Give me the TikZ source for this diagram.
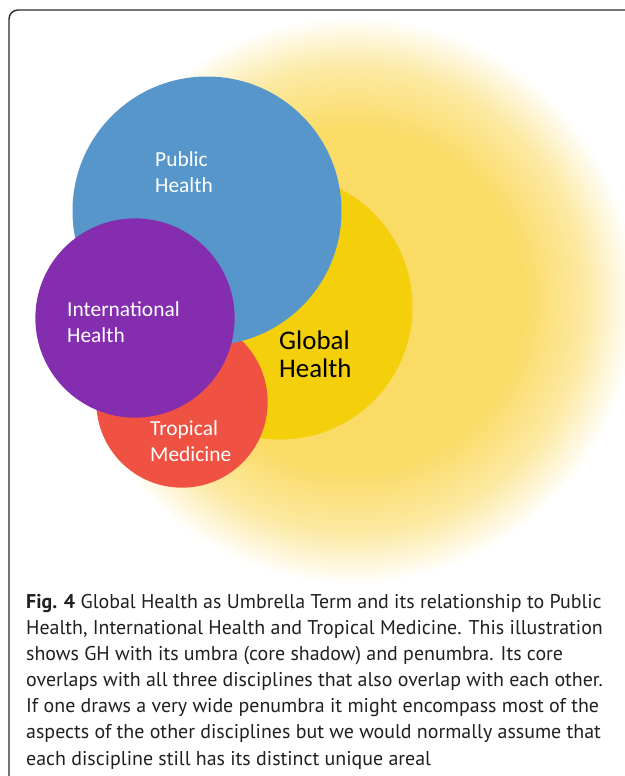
\documentclass[tikz,border=0pt]{standalone}
\usepackage{fontspec}
\setmainfont{PT Sans}
\newfontfamily\discfont{Carlito}
\definecolor{phblue}{HTML}{5796CA}
\definecolor{ihpurple}{HTML}{842EAF}
\definecolor{tmred}{HTML}{EF5242}
\definecolor{ghyellow}{HTML}{F3CF0C}
\definecolor{glowyellow}{HTML}{FADB66}
\definecolor{captext}{HTML}{231F20}
\definecolor{framegray}{HTML}{2A2A2A}
\pgfdeclareradialshading{penumbra}{\pgfpoint{0bp}{0bp}}{color(0bp)=(glowyellow); color(15bp)=(glowyellow); color(20.5bp)=(glowyellow!60); color(25bp)=(white); color(50bp)=(white)}
\tikzset{
  disc/.style={circle, inner sep=0pt, draw=none},
  disclabel/.style={font=\discfont\fontsize{21.5}{26}\selectfont, text=white, align=left, anchor=west, inner sep=0pt},
  captionline/.style={font=\fontsize{20}{26.2}\selectfont, text=captext, align=left, anchor=north west, inner sep=0pt}
}
\begin{document}
\begin{tikzpicture}[x=1bp,y=-1bp]
  \useasboundingbox (0,0) rectangle (625,776);
  \clip (0,0) rectangle (625,776);
  \fill[white] (0,0) rectangle (625,776);
  % frame round figure
  \draw[framegray, line width=1.4bp, rounded corners=9bp] (9,10) rectangle (720,880);
  % penumbra of global health
  \shade[shading=penumbra] (352,300) circle (284);
  % the discs
  \node[disc, fill=ghyellow, minimum size=266] (gh) at (280,307) {};
  \node[disc, fill=tmred, minimum size=172] (tm) at (182,402) {};
  \node[disc, fill=phblue, minimum size=270] (ph) at (207,211) {};
  \node[disc, fill=ihpurple, minimum size=200] (ih) at (135,318) {};
  % labels
  \node[disclabel] (phtext) at (155,172) {Public\\Health};
  \node[disclabel] (ihtext) at (67,322) {International\\Health};
  \node[disclabel] (tmtext) at (150,441) {Tropical\\Medicine};
  \node[disclabel, text=black, font=\discfont\fontsize{27}{28}\selectfont] (ghtext) at (279,354) {Global\\Health};
  % caption
  \node[captionline] (caption) at (26,594) {\textbf{Fig. 4} Global Health as Umbrella Term and its relationship to Public\\
    Health, International Health and Tropical Medicine. This illustration\\
    shows GH with its umbra (core shadow) and penumbra. Its core\\
    overlaps with all three disciplines that also overlap with each other.\\
    If one draws a very wide penumbra it might encompass most of the\\
    aspects of the other disciplines but we would normally assume that\\
    each discipline still has its distinct unique areal};
\end{tikzpicture}
\end{document}
